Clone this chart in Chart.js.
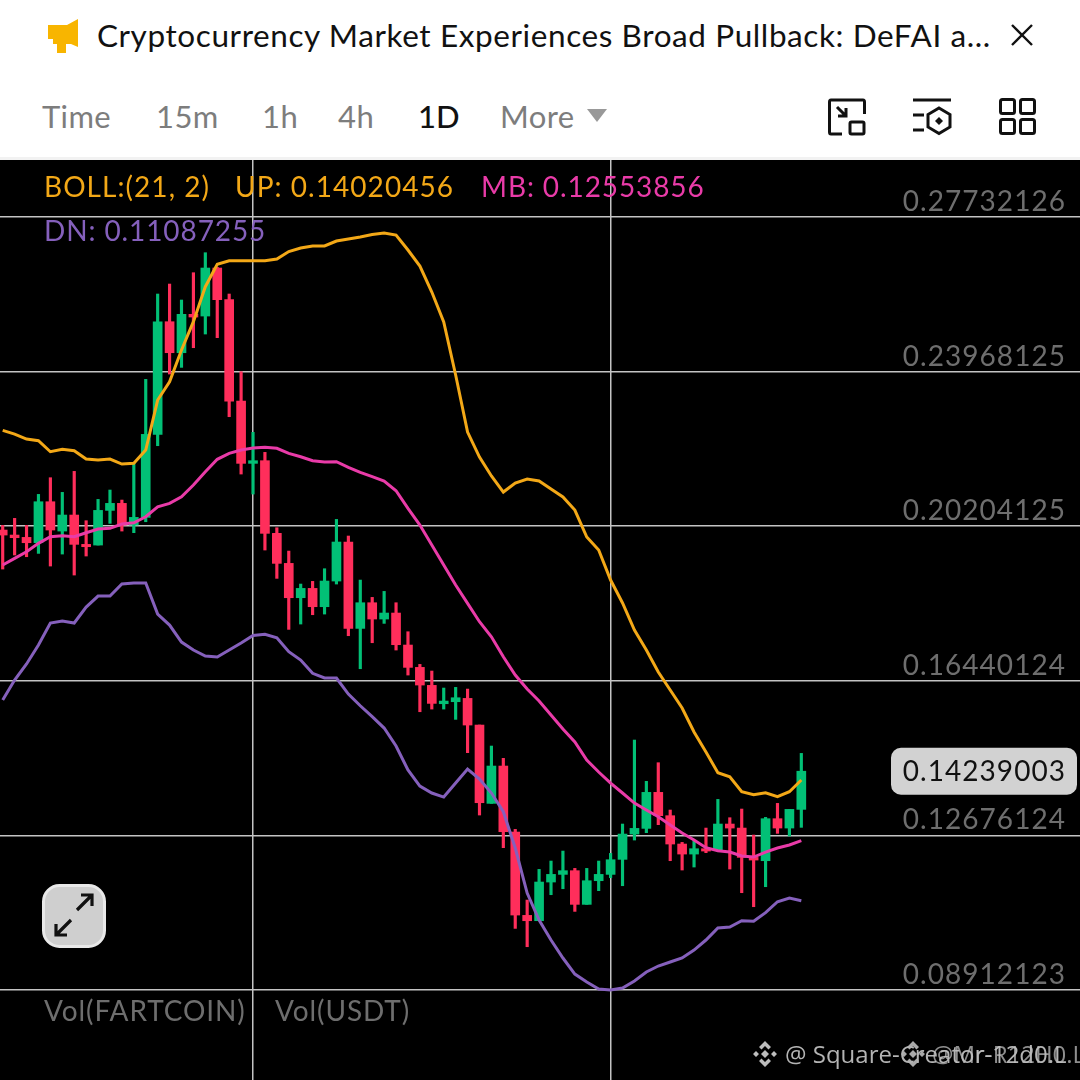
<!DOCTYPE html>
<html>
<head>
<meta charset="utf-8">
<script src="https://cdn.jsdelivr.net/npm/chart.js@4"></script>
<style>
  html, body { margin: 0; padding: 0; background: #000; }
  body { width: 1080px; height: 1080px; position: relative; overflow: hidden; font-family: Lato, sans-serif; }
  #head { position: absolute; left: 0; top: 0; width: 1080px; height: 160px; background: #fff; border-bottom: 0; }
  #head .sep { position: absolute; left: 0; top: 157px; width: 1080px; height: 3px; background: #f2f2f2; }
  .t { position: absolute; white-space: nowrap; line-height: 1; }
  .tab { top: 101px; font-size: 31px; color: #7d7d7d; letter-spacing: 0.4px; }
  .leg { font-size: 28px; letter-spacing: 0.9px; }
  #wrap { position: absolute; left: 0; top: 160px; width: 1080px; height: 920px; }
  svg { position: absolute; }
</style>
</head>
<body>
<div id="head">
  <svg style="left:47px;top:19px" width="32" height="34" viewBox="0 0 32 34"><path d="M1 6h19L31 0v28l-7-3H19v9H10V25H6v-5H1z" fill="#F8B500"/></svg>
  <div class="t" style="left:97px;top:20px;font-size:31.5px;color:#111;letter-spacing:0.6px">Cryptocurrency Market Experiences Broad Pullback: DeFAI a...</div>
  <svg style="left:1010px;top:23px" width="24" height="24" viewBox="0 0 24 24"><path d="M2 2L22 22M22 2L2 22" stroke="#111" stroke-width="2.4"/></svg>
  <div class="t tab" style="left:42px">Time</div>
  <div class="t tab" style="left:156px">15m</div>
  <div class="t tab" style="left:262px">1h</div>
  <div class="t tab" style="left:338px">4h</div>
  <div class="t tab" style="left:418px;color:#111;font-weight:500;letter-spacing:0">1D</div>
  <div class="t tab" style="left:500px">More</div>
  <svg style="left:587px;top:109px" width="20" height="13" viewBox="0 0 20 13"><path d="M0 0H20L10 13z" fill="#999"/></svg>
  <svg style="left:828px;top:98px" width="38" height="38" viewBox="0 0 38 38" fill="none" stroke="#111" stroke-width="3"><path d="M14 36H3Q1.500 36 1.500 34V4Q1.500 2 3 2H35Q36.500 2 36.500 4V16"/><rect x="22" y="24" width="14" height="12" rx="1.500"/><path d="M9 9L18 18M10 18H18V10"/></svg>
  <svg style="left:912px;top:98px" width="40" height="38" viewBox="0 0 40 38" fill="none" stroke="#111" stroke-width="3"><path d="M1 2H39M1 17H12M1 32H12"/><path d="M27 10L38 16.500V29L27 35.500L16 29V16.500z"/><path d="M27 19L31 23L27 27L23 23z" fill="#111" stroke="none"/></svg>
  <svg style="left:999px;top:98px" width="37" height="37" viewBox="0 0 37 37" fill="none" stroke="#111" stroke-width="3"><rect x="1.500" y="1.500" width="14" height="14" rx="2"/><rect x="21.500" y="1.500" width="14" height="14" rx="2"/><rect x="1.500" y="21.500" width="14" height="14" rx="2"/><rect x="21.500" y="21.500" width="14" height="14" rx="2"/></svg>
  <div class="sep"></div>
</div>
<div id="wrap"><canvas id="myChart" width="1080" height="920"></canvas></div>

<div class="t leg" style="left:44px;top:172px;color:#F3A817;letter-spacing:1.05px">BOLL:(21, 2)</div>
<div class="t leg" style="left:235px;top:172px;color:#F3A817;letter-spacing:1.05px">UP: 0.14020456</div>
<div class="t leg" style="left:481px;top:172px;color:#E93BA8">MB: 0.12553856</div>
<div class="t leg" style="left:44px;top:216px;color:#8560BC">DN: 0.11087255</div>
<div class="t leg" style="left:44px;top:996px;color:#6e6e6e">Vol(FARTCOIN)</div>
<div class="t leg" style="left:275px;top:996px;color:#6e6e6e">Vol(USDT)</div>

<svg style="left:42px;top:884px" width="64" height="64" viewBox="0 0 64 64"><rect x="1.500" y="1.500" width="61" height="61" rx="16" fill="#cfcfcf" stroke="#e9e9e9" stroke-width="3"/><path d="M35 26L49 12M39 11H50V22M29 36L15 50M14 40V51H25" fill="none" stroke="#111" stroke-width="3.200"/></svg>

<svg style="left:752px;top:1040px" width="26" height="28" viewBox="0 0 26 28" fill="#bdbdbd"><path d="M13 1L19 7L16.500 9.500L13 6L9.500 9.500L7 7zM13 27L7 21L9.500 18.500L13 22L16.500 18.500L19 21zM1 14L4 11L7 14L4 17zM19 14L22 11L25 14L22 17zM13 10L17 14L13 18L9 14z"/></svg>
<svg style="left:900px;top:1040px" width="26" height="28" viewBox="0 0 26 28" fill="#a9a9a9"><path d="M13 1L19 7L16.500 9.500L13 6L9.500 9.500L7 7zM13 27L7 21L9.500 18.500L13 22L16.500 18.500L19 21zM1 14L4 11L7 14L4 17zM19 14L22 11L25 14L22 17zM13 10L17 14L13 18L9 14z"/></svg>
<div class="t" style="left:785px;top:1037px;font:24px 'Open Sans';color:#b4b4b4">@ Square-Creator-12d0.L</div>
<div class="t" style="left:932px;top:1037px;font:24px 'Open Sans';color:rgba(190,190,190,.75)">@Mr-R12H0.L</div>

<script>
var opens = [0.20111,0.19989,0.19932,0.19802,0.20800,0.20086,0.20476,0.19762,0.19745,0.20589,0.20760,0.20232,0.20419,0.22440,0.25183,0.24428,0.25362,0.25321,0.26490,0.25719,0.23251,0.21734,0.21799,0.20030,0.19299,0.18463,0.18690,0.18244,0.18869,0.19819,0.17716,0.18341,0.17944,0.18090,0.17311,0.16767,0.16329,0.15882,0.15931,0.16012,0.15363,0.13456,0.14365,0.12758,0.10729,0.10599,0.11541,0.11727,0.11817,0.10997,0.11573,0.11727,0.12093,0.12709,0.12847,0.13724,0.13156,0.12466,0.12222,0.12352,0.12320,0.12953,0.12855,0.12141,0.12060,0.13083,0.12855,0.13310];
var highs = [0.20224,0.20395,0.20224,0.20979,0.21385,0.21028,0.21539,0.20338,0.20857,0.21085,0.20841,0.21734,0.23779,0.25857,0.26100,0.25711,0.26376,0.26863,0.26506,0.25857,0.23966,0.22489,0.22002,0.20167,0.19599,0.18796,0.18861,0.19169,0.20370,0.19965,0.18893,0.18471,0.18617,0.18341,0.17635,0.16840,0.16678,0.16264,0.16280,0.16239,0.15363,0.14852,0.14552,0.12823,0.11102,0.11849,0.12052,0.12295,0.11873,0.11873,0.12052,0.12239,0.12953,0.14998,0.13992,0.14446,0.13294,0.12506,0.12547,0.12855,0.13553,0.13107,0.13318,0.12685,0.13115,0.13456,0.13310,0.14673];
var lows = [0.19161,0.19502,0.19461,0.19542,0.19234,0.19526,0.19015,0.19478,0.19745,0.20273,0.20086,0.20046,0.20313,0.22164,0.23909,0.24071,0.24550,0.24883,0.24794,0.22870,0.21474,0.20987,0.19624,0.18934,0.17692,0.17822,0.18049,0.18065,0.18796,0.17538,0.16734,0.17367,0.17838,0.17189,0.16580,0.15687,0.15752,0.15752,0.15501,0.14690,0.13172,0.13456,0.12377,0.10412,0.09966,0.10599,0.11232,0.11378,0.10826,0.10997,0.11330,0.11646,0.11451,0.12563,0.12742,0.12937,0.12060,0.11833,0.11906,0.12255,0.12279,0.11857,0.11281,0.10940,0.11427,0.12726,0.12661,0.12872];
var closes = [0.19989,0.19924,0.19802,0.20800,0.20111,0.20476,0.19762,0.19705,0.20589,0.20760,0.20232,0.20419,0.22440,0.25183,0.24428,0.25362,0.25297,0.26490,0.25719,0.23251,0.21734,0.21799,0.20030,0.19299,0.18463,0.18690,0.18244,0.18869,0.19819,0.17716,0.18341,0.17944,0.18090,0.17319,0.16767,0.16337,0.15890,0.15947,0.16028,0.15363,0.13472,0.14365,0.12766,0.10737,0.10599,0.11541,0.11727,0.11817,0.10997,0.11573,0.11727,0.12084,0.12709,0.12847,0.13724,0.13156,0.12466,0.12222,0.12352,0.12295,0.12953,0.12855,0.12141,0.12076,0.13083,0.12855,0.13310,0.14239];

var bollUp = [0.22538,0.22448,0.22327,0.22285,0.22017,0.22076,0.22042,0.21840,0.21815,0.21840,0.21718,0.21735,0.22059,0.23276,0.23722,0.24494,0.25183,0.26035,0.26580,0.26668,0.26668,0.26668,0.26668,0.26709,0.26892,0.26977,0.27026,0.27026,0.27147,0.27196,0.27245,0.27306,0.27342,0.27293,0.26928,0.26539,0.25906,0.25175,0.23885,0.22497,0.21888,0.21426,0.21036,0.21255,0.21353,0.21304,0.21109,0.20915,0.20598,0.19941,0.19624,0.18894,0.18334,0.17676,0.17189,0.16654,0.16216,0.15777,0.15193,0.14706,0.14202,0.14105,0.13740,0.13666,0.13715,0.13618,0.13740,0.14024];
var bollMid = [0.19259,0.19422,0.19583,0.19787,0.19948,0.19972,0.19948,0.20045,0.20135,0.20152,0.20257,0.20289,0.20435,0.20678,0.20761,0.20922,0.21207,0.21530,0.21833,0.21978,0.22059,0.22108,0.22125,0.22100,0.21978,0.21896,0.21798,0.21767,0.21774,0.21638,0.21516,0.21409,0.21304,0.21068,0.20639,0.20233,0.19746,0.19259,0.18772,0.18326,0.17879,0.17513,0.17026,0.16581,0.16240,0.15948,0.15607,0.15266,0.14950,0.14511,0.14219,0.13951,0.13708,0.13464,0.13294,0.13131,0.12929,0.12734,0.12564,0.12376,0.12303,0.12271,0.12174,0.12150,0.12271,0.12369,0.12442,0.12547];
var bollDn = [0.15972,0.16459,0.16849,0.17311,0.17847,0.17896,0.17847,0.18236,0.18504,0.18504,0.18796,0.18821,0.18821,0.18066,0.17798,0.17384,0.17189,0.17043,0.17019,0.17189,0.17360,0.17542,0.17572,0.17489,0.17148,0.16946,0.16622,0.16508,0.16508,0.16118,0.15833,0.15566,0.15290,0.14852,0.14268,0.13878,0.13708,0.13610,0.13951,0.14292,0.14049,0.13708,0.13253,0.12369,0.11273,0.10616,0.10129,0.09691,0.09301,0.09106,0.08936,0.08911,0.08960,0.09131,0.09350,0.09496,0.09593,0.09691,0.09885,0.10129,0.10421,0.10445,0.10599,0.10584,0.10794,0.11061,0.11151,0.11086];

var yTicks = [0.27732126, 0.23968125, 0.20204125, 0.16440124, 0.12676124, 0.08912123];
var timeTicks = [21, 51];
var lastPrice = 0.14239003;

var upColor = '#02C076', downColor = '#FF2E5B';
var candleColors = closes.map(function (c, i) { return c >= opens[i] ? upColor : downColor; });

function pts(arr) { return arr.map(function (v, i) { return { x: i, y: v }; }); }
function line(arr, color) {
  return { type: 'line', data: pts(arr), borderColor: color, borderWidth: 3, pointRadius: 0, tension: 0, order: 1 };
}

var priceTag = {
  id: 'priceTag',
  beforeDraw: function (chart) { chart.ctx.letterSpacing = '1.05px'; },
  afterDraw: function (chart) {
    var c = chart.ctx, y = chart.scales.y.getPixelForValue(lastPrice);
    c.save();
    c.fillStyle = '#d2d2d2';
    c.beginPath();
    c.roundRect(891, y - 23.5, 186, 47, 10);
    c.fill();
    c.fillStyle = '#111';
    c.font = "28px Lato";
    c.textAlign = 'right';
    c.textBaseline = 'middle';
    c.fillText(lastPrice.toFixed(8), 1066, y + 1);
    c.restore();
  }
};

var ctx = document.getElementById('myChart').getContext('2d');
var myChart = new Chart(ctx, {
  data: {
    datasets: [
      line(bollUp, '#F3A817'),
      line(bollMid, '#E93BA8'),
      line(bollDn, '#8560BC'),
      {
        type: 'bar', grouped: false, order: 2, barThickness: 9, borderSkipped: false,
        data: opens.map(function (o, i) { return { x: i, y: [o, closes[i]] }; }),
        backgroundColor: candleColors
      },
      {
        type: 'bar', grouped: false, order: 3, barThickness: 2.5, borderSkipped: false,
        data: lows.map(function (l, i) { return { x: i, y: [l, highs[i]] }; }),
        backgroundColor: candleColors
      }
    ]
  },
  options: {
    responsive: false,
    animation: false,
    events: [],
    layout: { padding: 0 },
    plugins: { legend: { display: false }, tooltip: { enabled: false }, title: { display: false } },
    scales: {
      x: {
        type: 'linear', min: -0.2265, max: 90.38, offset: false,
        border: { display: false },
        grid: { color: '#c4c4c4', lineWidth: 1.5, drawTicks: false, offset: false },
        ticks: { display: false },
        afterBuildTicks: function (s) { s.ticks = timeTicks.map(function (v) { return { value: v }; }); }
      },
      y: {
        position: 'right', min: 0.06721, max: 0.29120,
        border: { display: false },
        grid: { color: '#c4c4c4', lineWidth: 1.5, drawTicks: false },
        ticks: {
          mirror: true, padding: -14, labelOffset: -15, color: '#6e6e6e',
          font: { family: 'Lato', size: 28 },
          callback: function (v) { return v.toFixed(8); }
        },
        afterBuildTicks: function (s) { s.ticks = yTicks.map(function (v) { return { value: v }; }); },
        // labels sit inside the plot, so the axis takes no room of its own
        afterFit: function (s) { s.width = 0; s.paddingTop = 0; s.paddingBottom = 0; }
      }
    }
  },
  plugins: [priceTag]
});
</script>
</body>
</html>
